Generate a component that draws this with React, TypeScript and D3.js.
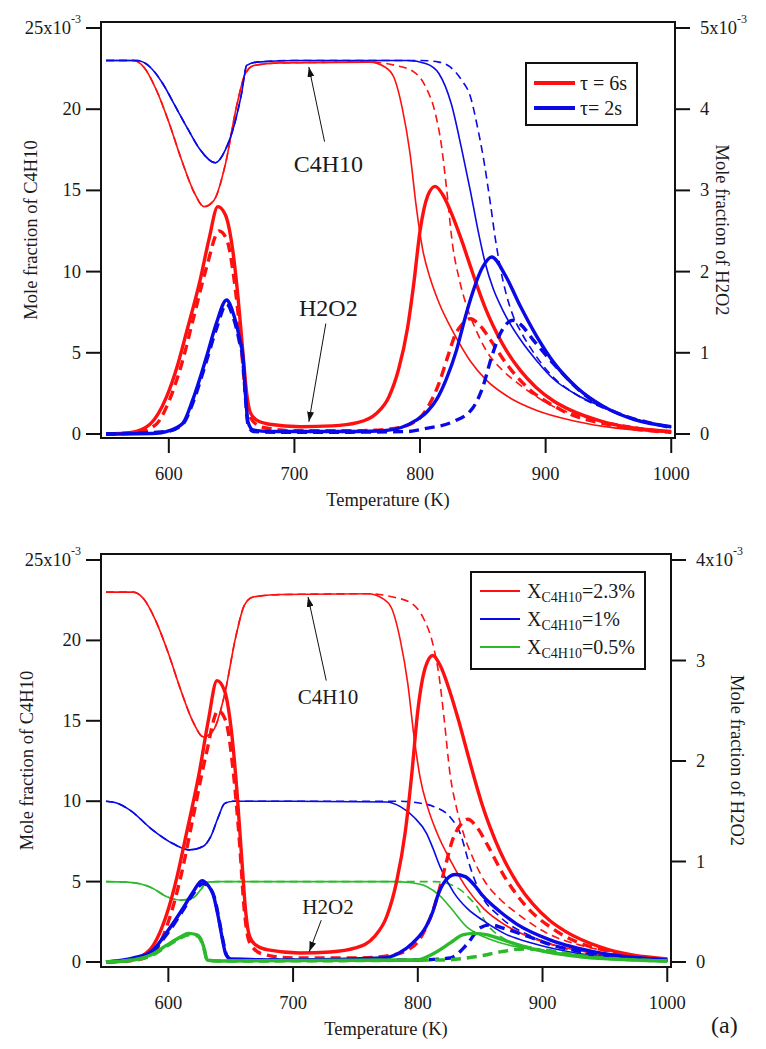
import React, { useEffect } from "react";
import * as d3 from "d3";

type Pt = [number, number];

// ---------- tick labels / categories ----------
const TEMP_TICKS = [600, 700, 800, 900, 1000];
const LEFT_TICKS = [0, 5, 10, 15, 20, 25];
const TOP_RIGHT_TICKS = [0, 1, 2, 3, 4, 5];
const BOTTOM_RIGHT_TICKS = [0, 1, 2, 3, 4];
const TOP_LEGEND = ["τ = 6s", "τ= 2s"];
const BOTTOM_LEGEND = ["=2.3%", "=1%", "=0.5%"];

// ---------- data (T in K, C4H10 in 1e-3, H2O2 in 1e-3) ----------
// tau = 6 s / X = 2.3 %  (red)
const RED_C4_SOLID: Pt[] = [[550,23],[572,23],[580,22.6],[590,21.2],[600,19.2],[610,16.9],[620,14.9],[628,14.0],[636,14.4],[645,16.6],[654,20.2],[661,22.2],[668,22.7],[690,22.85],[760,22.9],[772,22.6],[779,22.0],[786,20.0],[792,17.3],[797,14.0],[802,11.4],[808,9.6],[815,8.1],[827,6.2],[840,4.5],[853,3.3],[870,2.3],[893,1.45],[920,0.85],[946,0.47],[1000,0.1]];
const RED_C4_DASH: Pt[] = [[550,23],[572,23],[580,22.6],[590,21.2],[600,19.2],[610,16.9],[620,14.9],[628,14.0],[636,14.4],[645,16.6],[654,20.2],[661,22.2],[668,22.7],[690,22.85],[760,22.9],[780,22.7],[795,22.3],[805,21.3],[812,19.8],[817,17.8],[821,15.2],[826,11.6],[831,9.6],[837,7.9],[844,6.5],[853,5.1],[866,3.9],[880,3.0],[906,1.7],[930,1.05],[959,0.58],[1000,0.15]];
const RED_H2O2_SOLID: Pt[] = [[550,0],[570,0.02],[585,0.12],[598,0.45],[607,0.85],[614,1.25],[625,1.9],[632,2.4],[639,2.8],[645,2.7],[651,2.25],[655,1.7],[659,1.0],[662,0.5],[665,0.26],[670,0.17],[680,0.12],[705,0.09],[730,0.1],[750,0.14],[765,0.25],[775,0.45],[783,0.8],[790,1.3],[795,1.85],[800,2.5],[806,2.93],[812,3.05],[818,2.95],[826,2.68],[833,2.39],[840,2.07],[846,1.8],[852,1.55],[858,1.34],[866,1.1],[880,0.78],[892,0.58],[906,0.41],[919,0.3],[946,0.15],[1000,0.03]];
const RED_H2O2_DASH: Pt[] = [[550,0],[575,0.02],[590,0.12],[600,0.4],[610,0.85],[620,1.45],[630,2.05],[640,2.5],[646,2.4],[652,1.9],[657,1.2],[661,0.5],[665,0.2],[675,0.08],[700,0.04],[750,0.04],[780,0.07],[792,0.12],[800,0.2],[808,0.38],[815,0.62],[822,0.95],[828,1.22],[834,1.36],[840,1.42],[848,1.33],[856,1.16],[869,0.86],[885,0.58],[912,0.3],[959,0.09],[1000,0.02]];

// tau = 2 s (blue, top panel)
const BLUE2S_C4_SOLID: Pt[] = [[550,23],[575,23],[585,22.6],[595,21.6],[605,20.2],[615,18.8],[625,17.5],[637,16.7],[645,17.5],[652,19.0],[658,21.0],[662,22.7],[670,22.9],[700,23],[790,23],[805,22.8],[815,22.2],[825,20.3],[833,17.6],[840,15.0],[846,12.6],[852,10.5],[858,9.0],[866,7.6],[880,5.8],[893,4.5],[906,3.4],[925,2.4],[946,1.65],[970,0.95],[1000,0.4]];
const BLUE2S_C4_DASH: Pt[] = [[550,23],[575,23],[585,22.6],[595,21.6],[605,20.2],[615,18.8],[625,17.5],[637,16.7],[645,17.5],[652,19.0],[658,21.0],[662,22.7],[670,22.9],[700,23],[800,23],[815,22.9],[824,22.6],[833,21.8],[840,20.8],[846,18.8],[850,17.2],[856,14.2],[860,12.0],[864,10.2],[869,8.5],[874,7.3],[881,6.2],[888,5.3],[906,3.5],[925,2.4],[956,1.3],[1000,0.4]];
const BLUE2S_H2O2_SOLID: Pt[] = [[550,0],[590,0.01],[598,0.03],[611,0.13],[619,0.42],[630,0.95],[638,1.37],[646,1.65],[651,1.5],[656,1.2],[659,0.95],[661,0.5],[663,0.15],[667,0.05],[680,0.03],[750,0.03],[771,0.04],[785,0.08],[797,0.17],[806,0.28],[813,0.42],[821,0.68],[829,1.03],[835,1.38],[840,1.65],[850,2.06],[857,2.18],[868,1.95],[880,1.57],[893,1.2],[907,0.87],[925,0.57],[946,0.34],[970,0.18],[1000,0.09]];
const BLUE2S_H2O2_DASH: Pt[] = [[550,0],[598,0.03],[611,0.12],[620,0.42],[630,0.9],[638,1.3],[646,1.6],[651,1.45],[656,1.15],[659,0.9],[661,0.45],[663,0.12],[667,0.03],[700,0.02],[790,0.03],[805,0.07],[826,0.15],[842,0.32],[850,0.58],[857,0.95],[864,1.24],[874,1.4],[880,1.35],[890,1.16],[906,0.87],[933,0.46],[960,0.24],[985,0.13],[1000,0.08]];

// X = 1 % (blue, bottom panel)
const BLUE1_C4_SOLID: Pt[] = [[550,10],[558,9.9],[570,9.4],[586,8.3],[604,7.35],[617,6.97],[628,7.2],[634,7.8],[640,9.0],[645,9.85],[652,10],[700,10],[775,9.95],[786,9.66],[797,9.0],[807,8.0],[812,7.1],[818,5.9],[829,4.3],[840,3.3],[852,2.6],[870,1.75],[892,1.16],[920,0.65],[946,0.35],[1000,0.08]];
const BLUE1_C4_DASH: Pt[] = [[550,10],[558,9.9],[570,9.4],[586,8.3],[604,7.35],[617,6.97],[628,7.2],[634,7.8],[640,9.0],[645,9.85],[652,10],[700,10],[786,10],[800,9.9],[813,9.66],[826,9.0],[834,8.0],[842,5.9],[850,4.3],[866,2.8],[892,1.57],[920,0.8],[960,0.3],[1000,0.08]];
const BLUE1_H2O2_SOLID: Pt[] = [[550,0],[572,0.04],[586,0.1],[599,0.3],[612,0.54],[620,0.7],[627,0.81],[632,0.76],[636,0.67],[640,0.45],[643,0.25],[646,0.08],[650,0.03],[700,0.02],[772,0.04],[785,0.09],[796,0.19],[807,0.36],[812,0.5],[816,0.66],[821,0.79],[830,0.87],[838,0.85],[845,0.77],[852,0.66],[866,0.5],[879,0.38],[906,0.22],[946,0.09],[1000,0.02]];
const BLUE1_H2O2_DASH: Pt[] = [[550,0],[572,0.03],[586,0.09],[599,0.28],[612,0.52],[620,0.68],[628,0.78],[633,0.74],[637,0.64],[641,0.4],[644,0.2],[647,0.06],[651,0.02],[800,0.02],[826,0.04],[839,0.17],[850,0.34],[858,0.37],[870,0.33],[887,0.26],[910,0.16],[933,0.1],[1000,0.02]];

// X = 0.5 % (green, bottom panel)
const GREEN_C4_SOLID: Pt[] = [[550,5],[567,4.97],[578,4.85],[587,4.6],[599,4.05],[610,3.85],[620,4.0],[626,4.5],[631,4.97],[640,5],[780,5],[795,4.93],[807,4.7],[818,4.1],[826,3.4],[839,2.2],[852,1.6],[866,1.2],[906,0.64],[959,0.25],[1000,0.05]];
const GREEN_C4_DASH: Pt[] = [[550,5],[567,4.97],[578,4.85],[587,4.6],[599,4.05],[610,3.85],[620,4.0],[626,4.5],[631,4.97],[640,5],[800,5],[814,5],[825,4.85],[834,4.5],[841,4.0],[847,3.5],[855,2.4],[866,1.6],[892,0.9],[930,0.45],[1000,0.05]];
const GREEN_H2O2_SOLID: Pt[] = [[550,0],[572,0.02],[586,0.07],[599,0.17],[610,0.25],[616,0.285],[623,0.27],[627,0.2],[629,0.12],[631,0.02],[640,0.01],[799,0.02],[812,0.08],[826,0.19],[836,0.27],[845,0.285],[856,0.27],[866,0.23],[892,0.13],[932,0.05],[1000,0.01]];
const GREEN_H2O2_DASH: Pt[] = [[550,0],[572,0.02],[586,0.06],[599,0.16],[610,0.24],[616,0.27],[623,0.26],[627,0.19],[629,0.11],[631,0.02],[640,0.01],[820,0.02],[850,0.06],[866,0.1],[885,0.13],[900,0.12],[932,0.06],[1000,0.01]];

// ---------- styles ----------
const RED = "#ff1010";
const BLUE = "#0a0ae6";
const GREEN = "#2cba2c";
const FONT = "'Liberation Serif', 'Times New Roman', serif";
const TEXT = "#1a1a1a";

type Series = { data: Pt[]; axis: "L" | "R"; color: string; thick: boolean; dashed: boolean };
type Note = { text: string; label: Pt; tail: Pt; tip: Pt; size: number };

type PanelProps = {
  x0: number; x1: number; yTop: number; yBot: number; y0: number; yMax: number;
  rightMax: number; rightTicks: number[]; series: Series[]; notes: Note[];
  legend: React.ReactNode; rightTitleX: number; leftTitleX: number; id: string;
};

function Panel(p: PanelProps) {
  const x = d3.scaleLinear().domain([546, 1003]).range([p.x0, p.x1]);
  const yL = d3.scaleLinear().domain([0, 25]).range([p.y0, p.yMax]);
  const yR = d3.scaleLinear().domain([0, p.rightMax]).range([p.y0, p.yMax]);
  const mkLine = (axis: "L" | "R") =>
    d3.line<Pt>().x((d) => x(d[0])).y((d) => (axis === "L" ? yL(d[1]) : yR(d[1]))).curve(d3.curveMonotoneX);
  const sorted = [...p.series].sort((a, b) => Number(a.thick) - Number(b.thick));
  const midX = (p.x0 + p.x1) / 2;
  const midY = (p.yTop + p.yBot) / 2;
  return (
    <g>
      <defs>
        <marker id={"arr" + p.id} markerUnits="userSpaceOnUse" markerWidth={10} markerHeight={7} refX={10} refY={3.5} orient="auto">
          <path d="M0,0 L10,3.5 L0,7 z" fill="#111" />
        </marker>
        <clipPath id={"clip" + p.id}>
          <rect x={p.x0} y={p.yTop} width={p.x1 - p.x0} height={p.yBot - p.yTop} />
        </clipPath>
      </defs>
      <g clipPath={`url(#clip${p.id})`}>
        {sorted.map((s, i) => (
          <path key={i} d={mkLine(s.axis)(s.data) || ""} fill="none" stroke={s.color}
            strokeWidth={s.thick ? 3.4 : 1.6}
            strokeDasharray={s.dashed ? (s.thick ? "10 6" : "8 5") : undefined}
            strokeLinejoin="round" />
        ))}
      </g>
      {/* frame */}
      <rect x={p.x0} y={p.yTop} width={p.x1 - p.x0} height={p.yBot - p.yTop} fill="none" stroke="#111" strokeWidth={2} />
      {/* left ticks */}
      {LEFT_TICKS.map((t) => (
        <g key={"l" + t}>
          <line x1={p.x0 - 15} x2={p.x0} y1={yL(t)} y2={yL(t)} stroke="#111" strokeWidth={2} />
          <text x={p.x0 - 20} y={yL(t)} textAnchor="end" dominantBaseline="central" fontSize={18.5} fontFamily={FONT} fill={TEXT}>
            {t === 25 ? (<>25x10<tspan fontSize={12} dy={-9}>-3</tspan></>) : t}
          </text>
        </g>
      ))}
      {/* right ticks */}
      {p.rightTicks.map((t) => (
        <g key={"r" + t}>
          <line x1={p.x1} x2={p.x1 + 15} y1={yR(t)} y2={yR(t)} stroke="#111" strokeWidth={2} />
          <text x={p.x1 + 25} y={yR(t)} textAnchor="start" dominantBaseline="central" fontSize={18.5} fontFamily={FONT} fill={TEXT}>
            {t === p.rightMax ? (<>{t}x10<tspan fontSize={12} dy={-9}>-3</tspan></>) : t}
          </text>
        </g>
      ))}
      {/* bottom ticks */}
      {TEMP_TICKS.map((t) => (
        <g key={"b" + t}>
          <line x1={x(t)} x2={x(t)} y1={p.yBot} y2={p.yBot + 15} stroke="#111" strokeWidth={2} />
          <text x={x(t)} y={p.yBot + 42} textAnchor="middle" fontSize={18.5} fontFamily={FONT} fill={TEXT}>{t}</text>
        </g>
      ))}
      <text x={midX} y={p.yBot + 68} textAnchor="middle" fontSize={18.5} fontFamily={FONT} fill={TEXT}>Temperature (K)</text>
      <text transform={`translate(${p.leftTitleX},${midY}) rotate(-90)`} textAnchor="middle" dominantBaseline="central" fontSize={18.5} fontFamily={FONT} fill={TEXT}>Mole fraction of C4H10</text>
      <text transform={`translate(${p.rightTitleX},${midY}) rotate(90)`} textAnchor="middle" dominantBaseline="central" fontSize={18.5} fontFamily={FONT} fill={TEXT}>Mole fraction of H2O2</text>
      {/* annotations */}
      {p.notes.map((n, i) => (
        <g key={"n" + i}>
          <line x1={x(n.tail[0])} y1={yL(n.tail[1])} x2={x(n.tip[0])} y2={yL(n.tip[1])} stroke="#111" strokeWidth={1} markerEnd={`url(#arr${p.id})`} />
          <text x={x(n.label[0])} y={yL(n.label[1])} textAnchor="middle" dominantBaseline="central" fontSize={n.size} fontFamily={FONT} fill={TEXT}>{n.text}</text>
        </g>
      ))}
      {p.legend}
    </g>
  );
}

export default function App() {
  useEffect(() => {
    document.body.style.margin = "0";
    document.body.style.overflow = "hidden";
  }, []);

  const topSeries: Series[] = [
    { data: RED_C4_SOLID, axis: "L", color: RED, thick: false, dashed: false },
    { data: RED_C4_DASH, axis: "L", color: RED, thick: false, dashed: true },
    { data: BLUE2S_C4_SOLID, axis: "L", color: BLUE, thick: false, dashed: false },
    { data: BLUE2S_C4_DASH, axis: "L", color: BLUE, thick: false, dashed: true },
    { data: RED_H2O2_SOLID, axis: "R", color: RED, thick: true, dashed: false },
    { data: RED_H2O2_DASH, axis: "R", color: RED, thick: true, dashed: true },
    { data: BLUE2S_H2O2_SOLID, axis: "R", color: BLUE, thick: true, dashed: false },
    { data: BLUE2S_H2O2_DASH, axis: "R", color: BLUE, thick: true, dashed: true },
  ];
  const botSeries: Series[] = [
    { data: GREEN_C4_SOLID, axis: "L", color: GREEN, thick: false, dashed: false },
    { data: GREEN_C4_DASH, axis: "L", color: GREEN, thick: false, dashed: true },
    { data: BLUE1_C4_SOLID, axis: "L", color: BLUE, thick: false, dashed: false },
    { data: BLUE1_C4_DASH, axis: "L", color: BLUE, thick: false, dashed: true },
    { data: RED_C4_SOLID, axis: "L", color: RED, thick: false, dashed: false },
    { data: RED_C4_DASH, axis: "L", color: RED, thick: false, dashed: true },
    { data: RED_H2O2_SOLID, axis: "R", color: RED, thick: true, dashed: false },
    { data: RED_H2O2_DASH, axis: "R", color: RED, thick: true, dashed: true },
    { data: BLUE1_H2O2_SOLID, axis: "R", color: BLUE, thick: true, dashed: false },
    { data: BLUE1_H2O2_DASH, axis: "R", color: BLUE, thick: true, dashed: true },
    { data: GREEN_H2O2_SOLID, axis: "R", color: GREEN, thick: true, dashed: false },
    { data: GREEN_H2O2_DASH, axis: "R", color: GREEN, thick: true, dashed: true },
  ];
  const topNotes: Note[] = [
    { text: "C4H10", label: [727, 16.6], tail: [724, 18.0], tip: [711.5, 22.6], size: 24 },
    { text: "H2O2", label: [727, 7.75], tail: [725, 6.8], tip: [711.5, 0.75], size: 24 },
  ];
  const botNotes: Note[] = [
    { text: "C4H10", label: [728, 16.5], tail: [726.6, 17.5], tip: [712, 22.7], size: 21 },
    { text: "H2O2", label: [728, 3.45], tail: [722.6, 2.6], tip: [713, 0.65], size: 21 },
  ];
  const topColors = [RED, BLUE];
  const botColors = [RED, BLUE, GREEN];

  const topLegend = (
    <g>
      <rect x={526} y={63} width={111} height={62} fill="#fff" stroke="#111" strokeWidth={2} />
      {TOP_LEGEND.map((t, i) => (
        <g key={t}>
          <line x1={534} x2={575} y1={83 + i * 25} y2={83 + i * 25} stroke={topColors[i]} strokeWidth={4} />
          <text x={580} y={83 + i * 25} dominantBaseline="central" fontSize={20} fontFamily={FONT} fill={TEXT}>{t}</text>
        </g>
      ))}
    </g>
  );
  const botLegend = (
    <g>
      <rect x={471} y={572} width={174} height={97} fill="#fff" stroke="#111" strokeWidth={2} />
      {BOTTOM_LEGEND.map((t, i) => (
        <g key={t}>
          <line x1={480} x2={520} y1={591 + i * 28} y2={591 + i * 28} stroke={botColors[i]} strokeWidth={2} />
          <text x={527} y={591 + i * 28} dominantBaseline="central" fontSize={20} fontFamily={FONT} fill={TEXT}>
            X<tspan fontSize={14} dy={6}>C4H10</tspan><tspan dy={-6}>{t}</tspan>
          </text>
        </g>
      ))}
    </g>
  );

  return (
    <svg width={766} height={1049} viewBox="0 0 766 1049" style={{ position: "absolute", left: 0, top: 0, background: "#fff" }}>
      <rect x={0} y={0} width={766} height={1049} fill="#fff" />
      <Panel id="t" x0={101} x1={675} yTop={22} yBot={438} y0={434} yMax={28} rightMax={5}
        rightTicks={TOP_RIGHT_TICKS} series={topSeries} notes={topNotes} legend={topLegend}
        leftTitleX={31} rightTitleX={722} />
      <Panel id="b" x0={101} x1={671} yTop={554} yBot={967} y0={962} yMax={560} rightMax={4}
        rightTicks={BOTTOM_RIGHT_TICKS} series={botSeries} notes={botNotes} legend={botLegend}
        leftTitleX={27} rightTitleX={737} />
      <text x={711} y={1033} fontSize={24} fontFamily={FONT} fill={TEXT}>(a)</text>
    </svg>
  );
}
